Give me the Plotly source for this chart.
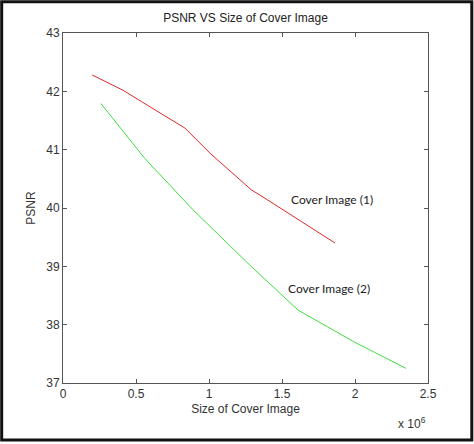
import plotly.graph_objects as go

# Cover Image (1)
size_1 = [0.20, 0.41, 0.54, 0.835, 1.007, 1.29, 1.35, 1.863]
psnr_1 = [42.28, 42.02, 41.82, 41.37, 40.94, 40.31, 40.22, 39.40]

# Cover Image (2)
size_2 = [0.26, 0.56, 0.89, 1.28, 1.61, 1.99, 2.35]
psnr_2 = [41.79, 40.85, 39.97, 39.02, 38.25, 37.71, 37.25]

x_ticks = [0, 0.5, 1, 1.5, 2, 2.5]
y_ticks = [37, 38, 39, 40, 41, 42, 43]

fig = go.Figure()
fig.add_trace(go.Scatter(x=size_1, y=psnr_1, mode="lines",
                         line=dict(color="#e02828", width=1)))
fig.add_trace(go.Scatter(x=size_2, y=psnr_2, mode="lines",
                         line=dict(color="#3ede3e", width=1)))

axis_style = dict(showgrid=False, zeroline=False, showline=True, linecolor="#555555",
                  linewidth=1, mirror="ticks", ticks="inside", ticklen=4,
                  tickcolor="#555555", tickfont=dict(family="Liberation Sans", size=12, color="#333333"))

fig.update_xaxes(range=[0, 2.5], tickvals=x_ticks, ticktext=[str(v) for v in x_ticks],
                 title=dict(text="Size of Cover Image", standoff=4,
                            font=dict(family="Liberation Sans", size=12, color="#333333")),
                 **axis_style)
fig.update_yaxes(range=[37, 43], tickvals=y_ticks, ticktext=[str(v) for v in y_ticks],
                 title=dict(text="PSNR", standoff=8,
                            font=dict(family="Liberation Sans", size=12, color="#333333")),
                 **axis_style)

fig.add_annotation(x=1.84, y=40.14, text="Cover Image (1)", showarrow=False,
                   font=dict(family="Lato", size=12, color="#222222"))
fig.add_annotation(x=1.82, y=38.62, text="Cover Image (2)", showarrow=False,
                   font=dict(family="Lato", size=12, color="#222222"))
fig.add_annotation(x=1.0, y=-0.085, xref="paper", yref="paper", xanchor="right",
                   yanchor="top", text="x 10<sup>6</sup>", showarrow=False,
                   font=dict(family="Liberation Sans", size=12, color="#333333"))

# outer frame around the whole picture
fig.add_shape(type="rect", xref="paper", yref="paper", x0=-0.168, x1=1.12,
              y0=-0.163, y1=1.089, line=dict(color="#111111", width=3))

fig.update_layout(
    width=474, height=444,
    margin=dict(l=63, r=46, t=33, b=61),
    paper_bgcolor="white", plot_bgcolor="white",
    showlegend=False,
    title=dict(text="PSNR VS Size of Cover Image", x=0.5, xref="paper", y=0.96,
               yanchor="middle", font=dict(family="Liberation Sans", size=12, color="#222222")),
)

fig.write_html("out.html", config={"displayModeBar": False},
               post_script="document.body.style.margin='0px';")
